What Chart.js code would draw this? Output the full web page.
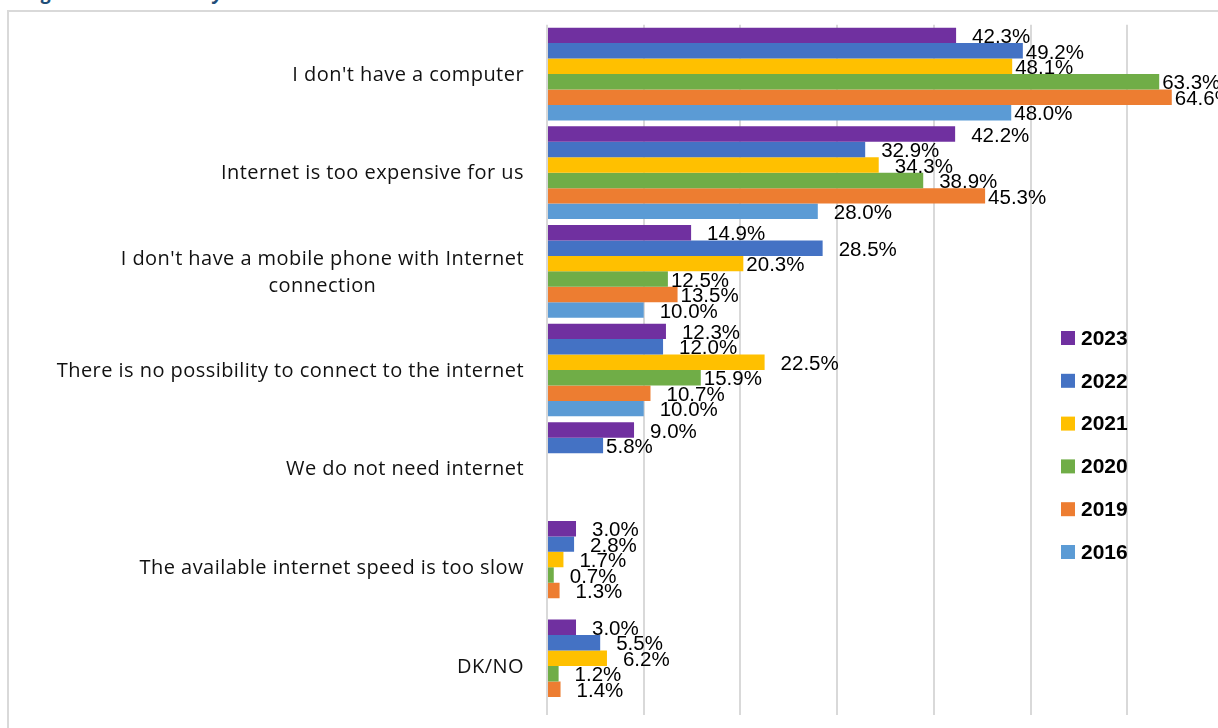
<!DOCTYPE html>
<html>
<head>
<meta charset="utf-8">
<script src="https://cdn.jsdelivr.net/npm/chart.js@4.4.1/dist/chart.umd.min.js"></script>
<style>
  html, body { margin: 0; padding: 0; background: #fff; overflow: hidden; width: 1218px; height: 728px; }
  #titulo {
    position: absolute; left: 26px; top: -21px;
    font: italic bold 19px "Open Sans", sans-serif; color: #1F4E79; white-space: nowrap;
  }
  #moldura {
    position: absolute; left: 7px; top: 10px; width: 1240px; height: 730px;
    border: 2px solid #d9d9d9; background: #fff;
  }
  #grafico { display: block; }
</style>
</head>
<body>
<div id="titulo">Figure 6: Reasons why the household does not have Internet at home</div>
<div id="moldura"><canvas id="grafico" width="1240" height="716"></canvas></div>
<script>
// Dados
const categorias = [
  "I don't have a computer",
  "Internet is too expensive for us",
  ["I don't have a mobile phone with Internet", "connection"],
  "There is no possibility to connect to the internet",
  "We do not need internet",
  "The available internet speed is too slow",
  "DK/NO"
];
const anos = ["2023", "2022", "2021", "2020", "2019", "2016"];
const valores2023 = [42.3, 42.2, 14.9, 12.3, 9.0, 3.0, 3.0];
const valores2022 = [49.2, 32.9, 28.5, 12.0, 5.8, 2.8, 5.5];
const valores2021 = [48.1, 34.3, 20.3, 22.5, null, 1.7, 6.2];
const valores2020 = [63.3, 38.9, 12.5, 15.9, null, 0.7, 1.2];
const valores2019 = [64.6, 45.3, 13.5, 10.7, null, 1.3, 1.4];
const valores2016 = [48.0, 28.0, 10.0, 10.0, null, null, null];

// Estilo
const cores = ["#7030A0", "#4472C4", "#FFC000", "#70AD47", "#ED7D31", "#5B9BD5"];
// rótulos que ficam colados na barra (ano-índice)
const rotulosColados = new Set(["2022-0", "2021-0", "2020-0", "2019-0", "2016-0",
  "2019-1", "2021-2", "2020-2", "2019-2", "2020-3", "2022-4"]);

const series = [valores2023, valores2022, valores2021, valores2020, valores2019, valores2016];

const pluginRotulos = {
  id: "rotulos",
  afterDatasetsDraw(chart) {
    const ctx = chart.ctx;
    ctx.save();
    ctx.font = '20.5px "Liberation Sans", Arial, sans-serif';
    ctx.fillStyle = "#000";
    ctx.textBaseline = "middle";
    ctx.textAlign = "left";
    chart.data.datasets.forEach((ds, d) => {
      const meta = chart.getDatasetMeta(d);
      meta.data.forEach((bar, i) => {
        const v = ds.data[i];
        if (v === null || v === undefined) return;
        const off = rotulosColados.has(ds.label + "-" + i) ? 3 : 16;
        ctx.fillText(v.toFixed(1) + "%", bar.x + off, bar.y + 2);
      });
    });
    ctx.restore();
  },
  afterDraw(chart) {
    const ctx = chart.ctx;
    const y = chart.scales.y;
    ctx.save();
    // rótulos das categorias
    ctx.font = '20px "Open Sans", sans-serif';
    ctx.letterSpacing = "0.45px";
    ctx.fillStyle = "#111";
    ctx.textBaseline = "middle";
    ctx.textAlign = "center";
    const direita = 515;
    categorias.forEach((cat, i) => {
      const linhas = Array.isArray(cat) ? cat : [cat];
      const larg = Math.max(...linhas.map(l => ctx.measureText(l).width));
      const cy = y.getPixelForValue(i);
      const alt = 27;
      linhas.forEach((l, k) => {
        ctx.fillText(l, direita - larg / 2, cy + 1 + (k - (linhas.length - 1) / 2) * alt);
      });
    });
    ctx.letterSpacing = "0px";
    // legenda
    ctx.font = 'bold 21px "Liberation Sans", Arial, sans-serif';
    ctx.textAlign = "left";
    anos.forEach((ano, k) => {
      const cy = 326 + k * 42.8;
      ctx.fillStyle = cores[k];
      ctx.fillRect(1052, cy - 7, 14, 14);
      ctx.fillStyle = "#000";
      ctx.fillText(ano, 1072, cy + 1);
    });
    ctx.restore();
  }
};

const ctx = document.querySelector("#grafico").getContext("2d");
const chart = new Chart(ctx, {
  type: "bar",
  data: {
    labels: categorias,
    datasets: anos.map((ano, k) => ({
      label: ano,
      data: series[k],
      backgroundColor: cores[k],
      borderWidth: 0,
      categoryPercentage: 0.94,
      barPercentage: 1.0
    }))
  },
  options: {
    indexAxis: "y",
    responsive: false,
    animation: false,
    devicePixelRatio: 1,
    layout: { padding: { top: 12.7, bottom: 12.7, left: 0, right: 25 } },
    plugins: {
      legend: { display: false },
      tooltip: { enabled: false },
      title: { display: false }
    },
    scales: {
      x: {
        min: 0,
        max: 70,
        ticks: { display: false, stepSize: 10 },
        grid: { color: "#d9d9d9", lineWidth: 2, drawTicks: false },
        border: { display: false }
      },
      y: {
        ticks: { display: false },
        grid: { display: false, drawTicks: false },
        border: { display: false },
        afterFit(scale) { scale.width = 538; }
      }
    }
  },
  plugins: [pluginRotulos]
});
</script>
</body>
</html>
